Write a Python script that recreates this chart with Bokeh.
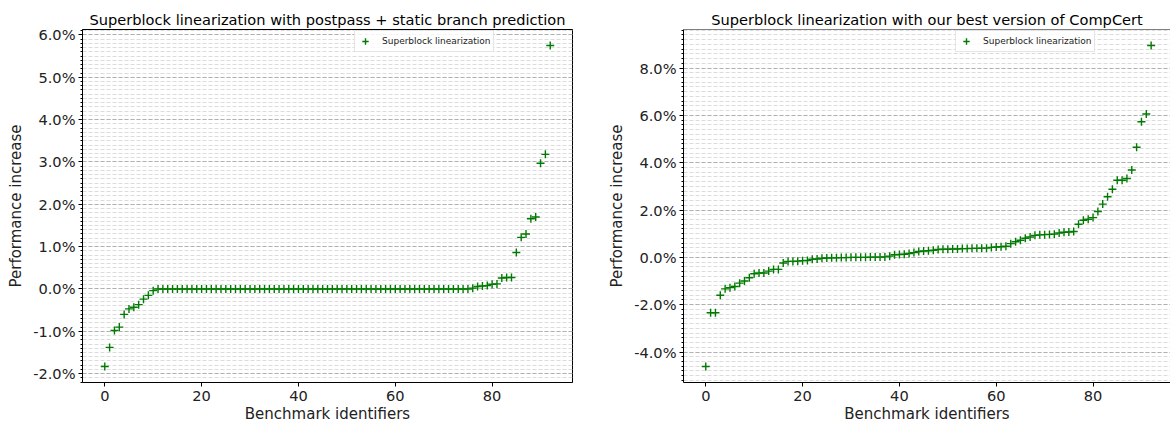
from bokeh.plotting import figure
from bokeh.layouts import row
from bokeh.models import (Range1d, PrintfTickFormatter, SingleIntervalTicker, FixedTicker,
                          Legend, LegendItem, Span)
from bokeh.embed import file_html
from bokeh.resources import INLINE

# ---------------- data ----------------
series_label = "Superblock linearization"
left_title = "Superblock linearization with postpass + static branch prediction"
right_title = "Superblock linearization with our best version of CompCert"
x_label = "Benchmark identifiers"
y_label = "Performance increase"
x_ticks = [0, 20, 40, 60, 80]

left_ids = list(range(93))
left_values = [
    -1.83, -1.38, -0.98, -0.90, -0.60, -0.47, -0.43, -0.37, -0.24, -0.15,
    -0.04, 0.00, 0.00, 0.00, 0.00, 0.00, 0.00, 0.00, 0.00, 0.00,
    0.00, 0.00, 0.00, 0.00, 0.00, 0.00, 0.00, 0.00, 0.00, 0.00,
    0.00, 0.00, 0.00, 0.00, 0.00, 0.00, 0.00, 0.00, 0.00, 0.00,
    0.00, 0.00, 0.00, 0.00, 0.00, 0.00, 0.00, 0.00, 0.00, 0.00,
    0.00, 0.00, 0.00, 0.00, 0.00, 0.00, 0.00, 0.00, 0.00, 0.00,
    0.00, 0.00, 0.00, 0.00, 0.00, 0.00, 0.00, 0.00, 0.00, 0.00,
    0.00, 0.00, 0.00, 0.00, 0.00, 0.00, 0.02, 0.06, 0.07, 0.08,
    0.11, 0.12, 0.26, 0.27, 0.27, 0.86, 1.22, 1.30, 1.66, 1.70,
    2.97, 3.18, 5.75,
]

right_ids = list(range(93))
right_values = [
    -4.61, -2.34, -2.34, -1.60, -1.33, -1.28, -1.23, -1.09, -1.00, -0.86,
    -0.69, -0.66, -0.66, -0.58, -0.51, -0.51, -0.24, -0.17, -0.17, -0.16,
    -0.14, -0.13, -0.08, -0.07, -0.04, -0.03, -0.02, -0.02, -0.01, -0.01,
    0.00, 0.00, 0.00, 0.00, 0.01, 0.01, 0.01, 0.02, 0.05, 0.11,
    0.12, 0.13, 0.16, 0.20, 0.25, 0.27, 0.28, 0.30, 0.33, 0.34,
    0.34, 0.35, 0.35, 0.37, 0.37, 0.38, 0.38, 0.39, 0.39, 0.42,
    0.44, 0.45, 0.47, 0.58, 0.66, 0.72, 0.81, 0.86, 0.93, 0.95,
    0.96, 0.97, 0.98, 1.03, 1.06, 1.07, 1.09, 1.40, 1.57, 1.61,
    1.68, 1.94, 2.25, 2.56, 2.88, 3.26, 3.26, 3.33, 3.69, 4.65,
    5.73, 6.06, 8.95,
]

FONT = "DejaVu Sans"


def padded(lo, hi, frac=0.05):
    d = (hi - lo) * frac
    return lo - d, hi + d


def make_plot(title, ids, vals, width, border_left, border_right, y_interval,
              x_end=None, draw_outline=True):
    x0, x1 = padded(min(ids), max(ids))
    if x_end is not None:
        x1 = x_end
    y0, y1 = padded(min(vals), max(vals))
    p = figure(width=width, height=428, output_backend="svg", toolbar_location=None,
               x_range=Range1d(x0, x1), y_range=Range1d(y0, y1),
               min_border_left=border_left, min_border_right=border_right,
               min_border_top=29, min_border_bottom=46,
               background_fill_color="white", border_fill_color="white")
    p.title.text = title
    p.title.text_font = FONT
    p.title.text_font_size = "14.6px"
    p.title.text_font_style = "normal"
    p.title.text_color = "black"
    p.title.align = "center"
    p.title.standoff = 4

    if draw_outline:
        p.outline_line_color = "black"
        p.outline_line_width = 1
    else:
        p.outline_line_color = None
        p.add_layout(Span(location=y1, dimension="width", line_color="black", line_width=1.2))

    # axes
    for ax in (p.xaxis[0], p.yaxis[0]):
        ax.axis_line_color = "black"
        ax.axis_line_width = 1
        ax.major_tick_line_color = "black"
        ax.minor_tick_line_color = "black"
        ax.major_tick_out = 4
        ax.major_tick_in = 0
        ax.major_label_text_font = FONT
        ax.major_label_text_font_size = "14.6px"
        ax.major_label_text_color = "#222222"
        ax.axis_label_text_font = FONT
        ax.axis_label_text_font_size = "15px"
        ax.axis_label_text_font_style = "normal"
        ax.axis_label_text_color = "#222222"
    p.xaxis[0].ticker = FixedTicker(ticks=x_ticks, minor_ticks=[])
    p.xaxis[0].major_label_standoff = 4
    p.xaxis[0].axis_label_standoff = 1
    p.xaxis[0].axis_label = x_label
    p.yaxis[0].ticker = SingleIntervalTicker(interval=y_interval, num_minor_ticks=10)
    p.yaxis[0].formatter = PrintfTickFormatter(format="%.1f%%")
    p.yaxis[0].minor_tick_out = 2
    p.yaxis[0].minor_tick_in = 0
    p.yaxis[0].major_label_standoff = 3
    p.yaxis[0].axis_label_standoff = 5
    p.yaxis[0].axis_label = y_label

    # grid
    p.xgrid.grid_line_color = None
    p.ygrid.grid_line_color = "#b0b0b0"
    p.ygrid.grid_line_dash = "4 2"
    p.ygrid.grid_line_width = 1
    p.ygrid.minor_grid_line_color = "#dcdcdc"
    p.ygrid.minor_grid_line_dash = "4 2"
    p.ygrid.minor_grid_line_width = 1

    r = p.scatter(ids, vals, marker="cross", size=8, line_color="#007a00",
                  line_width=1.4)

    legend = Legend(items=[LegendItem(label=series_label, renderers=[r])],
                    location=(272, 330))
    legend.label_text_font = FONT
    legend.label_text_font_size = "9px"
    legend.label_text_color = "#222222"
    legend.glyph_width = 16
    legend.glyph_height = 16
    legend.label_height = 16
    legend.label_standoff = 9
    legend.padding = 2
    legend.margin = 0
    legend.spacing = 0
    legend.border_line_color = "#cccccc"
    legend.border_line_width = 1
    legend.background_fill_alpha = 0.85
    p.add_layout(legend, "center")
    return p


left = make_plot(left_title, left_ids, left_values, width=600, border_left=82,
                 border_right=28, y_interval=1)
# right plot: frame runs off the window edge, like the reference
right = make_plot(right_title, right_ids, right_values, width=570, border_left=83,
                  border_right=0, y_interval=2, x_end=96.0, draw_outline=False)

layout = row(left, right, spacing=0)
open("out.html", "w").write(file_html(layout, INLINE))
